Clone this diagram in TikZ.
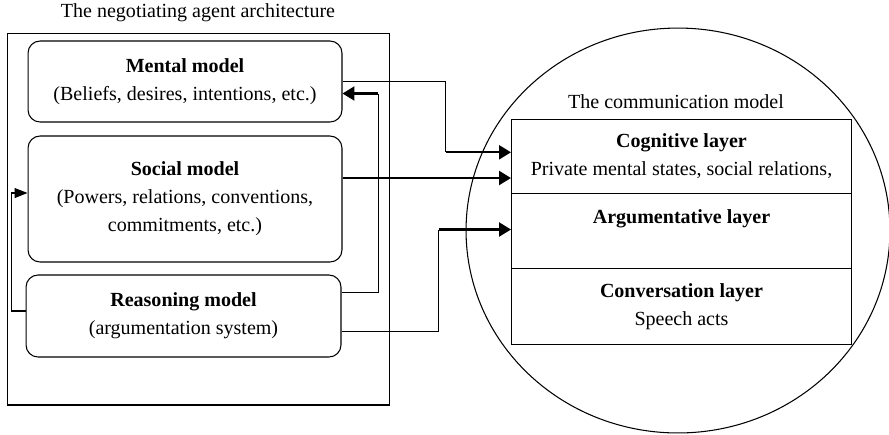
\documentclass[tikz,border=0pt]{standalone}
\usepackage{fontspec}
\setmainfont{Liberation Serif}
\usetikzlibrary{arrows.meta,shapes.geometric}

\begin{document}
\begin{tikzpicture}[x=0.02cm, y=-0.02cm,
  font=\fontsize{11.4}{15.9}\selectfont,
  wire/.style={line width=0.6pt},
  modelbox/.style={draw, wire, rounded corners=0.24cm, align=center, minimum width=6.28cm},
  layerbox/.style={draw, wire, align=center, minimum width=6.8cm},
  feed/.style={line width=1.3pt, -{Triangle[length=0.24cm,width=0.28cm]}},
  ]
  \useasboundingbox (0,0) rectangle (889,434);
  % agent side
  \node (archtitle) at (198,13) {The negotiating agent architecture};
  \node[draw, wire, minimum width=7.66cm, minimum height=7.44cm] (agent) at (198.5,219) {};
  \node[modelbox, minimum height=1.62cm] (mental) at (185,81.5)
       {\textbf{Mental model}\\(Beliefs, desires, intentions, etc.)};
  \node[modelbox, minimum height=2.52cm] (social) at (185,199)
       {\textbf{Social model}\\(Powers, relations, conventions,\\commitments, etc.)};
  \node[modelbox, minimum width=6.3cm, minimum height=1.64cm] (reason) at (183.5,316)
       {\textbf{Reasoning model}\\(argumentation system)};
  % communication side
  \node[draw, wire, ellipse, inner sep=0pt, minimum width=8.48cm, minimum height=8.1cm] (comm) at (678,230.5) {};
  \node (commtitle) at (676,101.7) {The communication model};
  \node[layerbox, minimum height=1.48cm] (cog) at (681.5,156.3)
       {\textbf{Cognitive layer}\\Private mental states, social relations,};
  \node[layerbox, minimum height=1.51cm] (arg) at (681.5,231)
       {\textbf{Argumentative layer}\\\mbox{}};
  \node[layerbox, minimum height=1.51cm] (conv) at (681.5,306.7)
       {\textbf{Conversation layer}\\Speech acts};
  % connectors
  \coordinate (cogin) at ([yshift=0.08cm]cog.west);
  \coordinate (bendA) at ([xshift=-1.31cm]cogin);
  \draw[wire] (mental.east) -| (bendA);
  \draw[feed] (bendA) -- (cogin);
  \draw[feed] ([yshift=0.42cm]social.east) -- ([yshift=0.42cm]social.east -| cog.west);
  \coordinate (argin) at ([yshift=0.03cm]arg.west);
  \coordinate (bendB) at ([xshift=-1.45cm]argin);
  \draw[wire] ([yshift=-0.31cm]reason.east) -| (bendB);
  \draw[feed] (bendB) -- (argin);
  \coordinate (mentin) at ([yshift=-0.24cm]mental.east);
  \coordinate (bendC) at ([xshift=0.72cm]mentin);
  \draw[wire] ([yshift=0.47cm]reason.east) -| (bendC);
  \draw[feed] (bendC) -- (mentin);
  \draw[wire, -{Triangle[length=0.26cm,width=0.2cm]}] ([yshift=0.1cm]reason.west) -- ++(-0.28cm,0) |- ([yshift=0.12cm]social.west);
\end{tikzpicture}
\end{document}
